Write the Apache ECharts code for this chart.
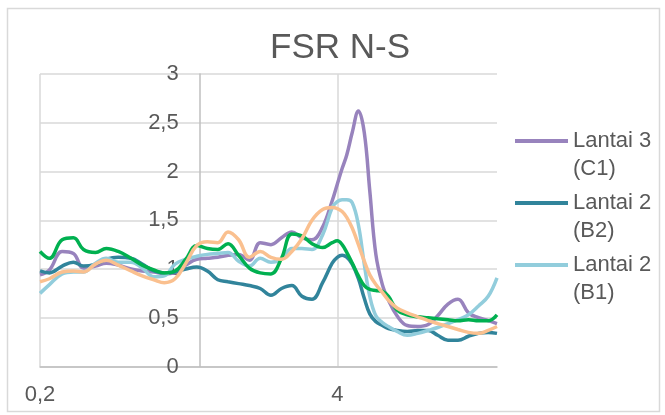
<!DOCTYPE html>
<html>
<head>
<meta charset="utf-8">
<title>FSR N-S</title>
<script src="https://cdn.jsdelivr.net/npm/echarts@6/dist/echarts.min.js"></script>
<style>
html, body {
  margin: 0;
  padding: 0;
  background: #fff;
}
#fsr-pic {
  width: 665px;
  height: 415px;
}
</style>
</head>
<body>
<div id="fsr-pic"></div>
<script>
// frekuensi (sumbu x, log basis 20)
var freq = [0.2, 0.22, 0.25, 0.28, 0.31, 0.35, 0.39, 0.44, 0.5, 0.56,
  0.63, 0.7, 0.78, 0.87, 0.97, 1.08, 1.2, 1.33, 1.48, 1.65,
  1.84, 2.05, 2.28, 2.53, 2.8, 3.1, 3.45, 3.8, 4.0, 4.2,
  4.4, 4.65, 4.95, 5.25, 5.55, 5.9, 6.3, 6.7, 7.3, 8.1,
  9.0, 10, 11, 12.2, 13.5, 15, 16.6, 18.3, 20]

var lantai3C1 = [0.94, 0.99, 1.18, 1.16, 1.01, 1.03, 1.06, 1.04, 1.0, 0.98,
  0.97, 0.95, 0.96, 1.04, 1.1, 1.11, 1.12, 1.14, 1.15, 1.09,
  1.27, 1.25, 1.32, 1.38, 1.32, 1.3, 1.43, 1.7, 1.87, 2.03,
  2.17, 2.4, 2.62, 2.4, 1.8, 1.15, 0.84, 0.68, 0.52, 0.42,
  0.41, 0.43, 0.52, 0.64, 0.69, 0.55, 0.5, 0.47, 0.44]

var lantai2B2 = [0.98, 0.96, 1.03, 1.07, 1.03, 1.05, 1.1, 1.12, 1.11, 1.05,
  0.98, 0.96, 0.97, 1.0, 1.02, 0.98, 0.89, 0.87, 0.85, 0.83,
  0.8, 0.73, 0.8, 0.83, 0.72, 0.69, 0.86, 1.06, 1.12, 1.14,
  1.12, 1.05, 0.9, 0.7, 0.54, 0.46, 0.42, 0.39, 0.37, 0.36,
  0.37, 0.37, 0.32, 0.27, 0.27, 0.31, 0.34, 0.35, 0.34]

var lantai2B1 = [0.75, 0.84, 0.95, 0.97, 0.97, 1.06, 1.11, 1.07, 1.07, 1.01,
  0.92, 0.93, 1.05, 1.1, 1.13, 1.15, 1.16, 1.17, 1.08, 1.03,
  1.11, 1.07, 1.1, 1.21, 1.21, 1.2, 1.35, 1.63, 1.69, 1.71,
  1.71, 1.68, 1.45, 1.05, 0.72, 0.52, 0.45, 0.41, 0.36, 0.32,
  0.34, 0.37, 0.4, 0.44, 0.48, 0.53, 0.62, 0.72, 0.91]

var seriHijau = [1.18, 1.11, 1.3, 1.32, 1.2, 1.17, 1.21, 1.18, 1.11, 1.04,
  0.99, 0.96, 0.98, 1.1, 1.24, 1.21, 1.2, 1.26, 1.14, 1.01,
  0.96, 0.95, 1.11, 1.36, 1.34, 1.26, 1.22, 1.27, 1.29, 1.25,
  1.17, 1.06, 0.93, 0.83, 0.79, 0.78, 0.77, 0.72, 0.58, 0.53,
  0.51, 0.5, 0.49, 0.48, 0.47, 0.48, 0.47, 0.47, 0.53]

var seriOranye = [0.87, 0.9, 0.97, 0.98, 0.97, 1.05, 1.09, 1.04, 0.98, 0.93,
  0.89, 0.86, 0.9, 1.06, 1.24, 1.28, 1.27, 1.38, 1.3, 1.12,
  1.18, 1.12, 1.1, 1.18, 1.31, 1.5, 1.61, 1.63, 1.62, 1.59,
  1.53, 1.42, 1.25, 1.08, 0.94, 0.84, 0.76, 0.68, 0.6, 0.55,
  0.51, 0.47, 0.44, 0.41, 0.38, 0.35, 0.34, 0.37, 0.41]

var xLabels = [0.2, 4]
var legendNames = ['Lantai 3 (C1)', 'Lantai 2 (B2)', 'Lantai 2 (B1)']

function pairs (ys) {
  return freq.map(function (f, i) { return [f, ys[i]] })
}

function makeLine (name, color, ys) {
  return {
    name: name,
    type: 'line',
    smooth: 0.4,
    showSymbol: false,
    symbol: 'none',
    lineStyle: { width: 3.5, color: color },
    itemStyle: { color: color },
    data: pairs(ys)
  }
}

var textColor = '#595959'
var fontFam = '"Liberation Sans", Arial, sans-serif'

var myChart = echarts.init(document.getElementById('fsr-pic'), null, { renderer: 'canvas' })

var option = {
  backgroundColor: '#fff',
  animation: false,
  title: {
    text: 'FSR N-S',
    left: 340,
    textAlign: 'center',
    top: 31,
    padding: 0,
    textStyle: {
      fontSize: 35,
      fontWeight: 'normal',
      color: textColor,
      fontFamily: fontFam
    }
  },
  legend: {
    orient: 'vertical',
    left: 515,
    top: 99,
    padding: 0,
    data: legendNames,
    icon: 'rect',
    itemWidth: 53,
    itemHeight: 4,
    itemGap: -22,
    // baris kosong di atas supaya garis ikon sejajar dengan baris pertama
    formatter: function (name) {
      return ' \n' + name.replace(' (', '\n(')
    },
    textStyle: {
      fontSize: 22,
      lineHeight: 28,
      color: textColor,
      fontFamily: fontFam
    }
  },
  grid: {
    left: 40,
    right: 168,
    top: 74,
    bottom: 48.5
  },
  xAxis: {
    type: 'log',
    logBase: 20,
    min: 0.2,
    max: 20,
    axisLine: { show: true, lineStyle: { color: '#bfbfbf', width: 1.5 } },
    axisTick: { show: false, customValues: xLabels },
    splitLine: { show: true, lineStyle: { color: '#d9d9d9', width: 1.5 } },
    axisLabel: {
      customValues: xLabels,
      margin: 17,
      fontSize: 22,
      color: textColor,
      fontFamily: fontFam,
      formatter: function (v) { return String(v).replace('.', ',') }
    }
  },
  yAxis: {
    type: 'value',
    min: 0,
    max: 3,
    interval: 0.5,
    offset: -159.5,
    axisLine: { show: true, lineStyle: { color: '#bfbfbf', width: 1.5 } },
    axisTick: { show: false },
    splitLine: { show: true, lineStyle: { color: '#d9d9d9', width: 1.5 } },
    axisLabel: {
      margin: 21,
      fontSize: 22,
      color: textColor,
      fontFamily: fontFam,
      formatter: function (v) { return String(v).replace('.', ',') }
    }
  },
  graphic: [{
    type: 'rect',
    shape: { x: 7.5, y: 8.5, width: 652, height: 403 },
    style: { fill: null, stroke: '#d9d9d9', lineWidth: 1.5 },
    silent: true
  }],
  series: [
    makeLine('Lantai 3 (C1)', '#9883bd', lantai3C1),
    makeLine('Lantai 2 (B2)', '#31849b', lantai2B2),
    makeLine('Lantai 2 (B1)', '#92cddc', lantai2B1),
    makeLine('Hijau', '#00b050', seriHijau),
    makeLine('Oranye', '#fac08f', seriOranye)
  ]
}

myChart.setOption(option)

// sumbu y memotong sumbu x di f = 1
var crossX = myChart.convertToPixel({ xAxisIndex: 0 }, 1)
if (!isNaN(crossX)) {
  myChart.setOption({ yAxis: { offset: 40 - crossX } })
}
</script>
</body>
</html>
